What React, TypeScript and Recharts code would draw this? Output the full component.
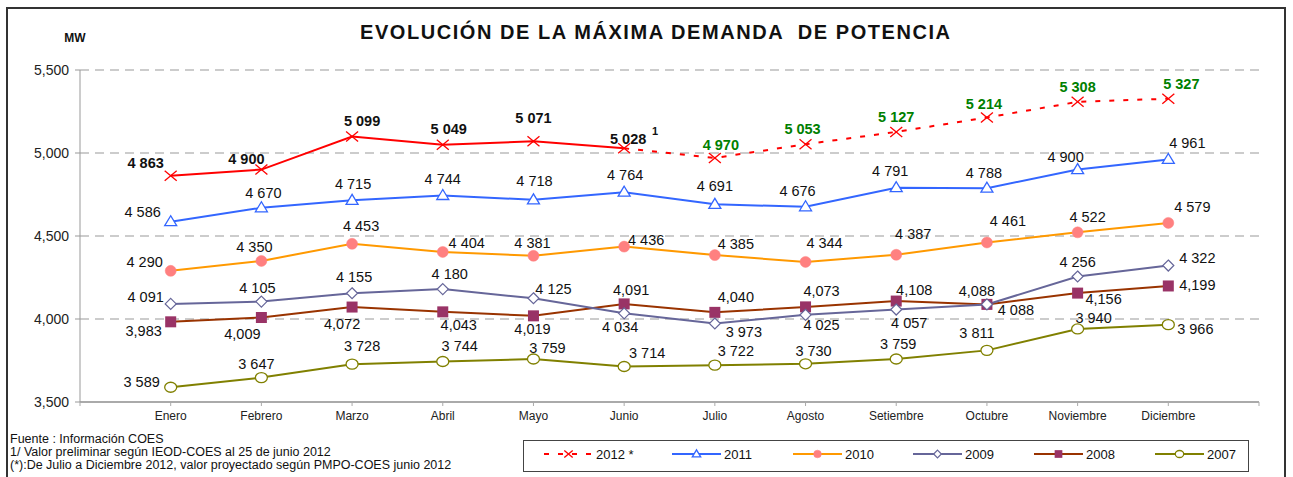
import React from 'react';
import { LineChart, Line, XAxis, YAxis, CartesianGrid } from 'recharts';

const months = ['Enero', 'Febrero', 'Marzo', 'Abril', 'Mayo', 'Junio', 'Julio', 'Agosto', 'Setiembre', 'Octubre', 'Noviembre', 'Diciembre'];
const y2012Real = [4863, 4900, 5099, 5049, 5071, 5028];
const y2012Proj = [4970, 5053, 5127, 5214, 5308, 5327];
const y2011 = [4586, 4670, 4715, 4744, 4718, 4764, 4691, 4676, 4791, 4788, 4900, 4961];
const y2010 = [4290, 4350, 4453, 4404, 4381, 4436, 4385, 4344, 4387, 4461, 4522, 4579];
const y2009 = [4091, 4105, 4155, 4180, 4125, 4034, 3973, 4025, 4057, 4088, 4256, 4322];
const y2008 = [3983, 4009, 4072, 4043, 4019, 4091, 4040, 4073, 4108, 4088, 4156, 4199];
const y2007 = [3589, 3647, 3728, 3744, 3759, 3714, 3722, 3730, 3759, 3811, 3940, 3966];
const yTicks = [3500, 4000, 4500, 5000, 5500];
const xTicks = [0, 1, 2, 3, 4, 5, 6, 7, 8, 9, 10, 11, 12, 13];

// label placement (dx, dy) relative to each point
const o2012 = [[-25, -13], [-15, -11], [10, -16], [6, -16], [0, -23], [4, -10], [6, -13], [-3, -15], [0, -15], [-3, -14], [0, -15], [13, -15]];
const o2011 = [[-28, -10], [2, -15], [1, -17], [0, -17], [1, -19], [1, -17], [0, -19], [-8, -16], [-6, -17], [-3, -15], [-12, -13], [19, -17]];
const o2010 = [[-26, -9], [-7, -14], [9, -18], [24, -9], [-1, -13], [22, -7], [21, -11], [19, -19], [17, -21], [21, -22], [10, -16], [24, -16]];
const o2009 = [[-25, -7], [-4, -14], [2, -16], [7, -15], [20, -9], [-4, 13], [29, 8], [16, 10], [13, 13], [29, 5], [0, -15], [29, -8]];
const o2008 = [[-27, 9], [-19, 16], [-10, 17], [16, 13], [-1, 13], [7, -14], [21, -16], [16, -16], [18, -11], [-10, -14], [26, 6], [29, -1]];
const o2007 = [[-29, -5], [-5, -14], [10, -18], [17, -16], [14, -11], [23, -14], [21, -14], [8, -13], [2, -15], [-10, -18], [16, -11], [27, 4]];

const data = months.map((m, i) => ({
  x: i + 1,
  s2012a: i < 6 ? y2012Real[i] : null,
  s2012b: i === 5 ? y2012Real[5] : i > 5 ? y2012Proj[i - 6] : null,
  s2011: y2011[i],
  s2010: y2010[i],
  s2009: y2009[i],
  s2008: y2008[i],
  s2007: y2007[i],
}));

const FONT = '"Liberation Sans", Arial, Helvetica, sans-serif';

const fmtSpace = (v: number) => `${Math.floor(v / 1000)} ${String(v % 1000).padStart(3, '0')}`;
const fmtComma = (v: number) => `${Math.floor(v / 1000)},${String(v % 1000).padStart(3, '0')}`;

function makeLabel(offsets: number[][], fmt: (v: number) => string, opts: { bold?: boolean; color?: string; skip?: number[]; sup?: number } = {}) {
  return (props: any) => {
    const { x, y, index, value } = props;
    if (x == null || y == null || value == null || (opts.skip && opts.skip.includes(index))) return null;
    const [dx, dy] = offsets[index] || [0, -12];
    const fill = opts.color || '#111';
    return (
      <g key={`lbl-${index}`}>
        <text x={x + dx} y={y + dy} dy="0.36em" textAnchor="middle" fontFamily={FONT} fontSize={14.5} fontWeight={opts.bold ? 700 : 400} fill={fill}>
          {fmt(Number(value))}
        </text>
        {opts.sup === index ? (
          <text x={x + 31} y={y - 17} dy="0.36em" textAnchor="middle" fontFamily={FONT} fontSize={11} fontWeight={700} fill="#111">1</text>
        ) : null}
      </g>
    );
  };
}

type Shape = 'cross' | 'tri' | 'fcircle' | 'diamond' | 'square' | 'ocircle';

function drawMarker(shape: Shape, cx: number, cy: number, color: string, fill: string, s = 1, key?: string) {
  switch (shape) {
    case 'cross':
      return (
        <g key={key}>
          <line x1={cx - 6 * s} y1={cy - 5 * s} x2={cx + 6 * s} y2={cy + 5 * s} stroke={color} strokeWidth={1.3} />
          <line x1={cx - 6 * s} y1={cy + 5 * s} x2={cx + 6 * s} y2={cy - 5 * s} stroke={color} strokeWidth={1.3} />
        </g>
      );
    case 'tri':
      return <polygon key={key} points={`${cx},${cy - 6 * s} ${cx - 6 * s},${cy + 4 * s} ${cx + 6 * s},${cy + 4 * s}`} fill="#fff" stroke={color} strokeWidth={1.3} />;
    case 'fcircle':
      return <circle key={key} cx={cx} cy={cy} r={5.5 * s} fill={fill} stroke={fill} strokeWidth={0.5} />;
    case 'diamond':
      return <polygon key={key} points={`${cx},${cy - 5.5 * s} ${cx + 5.5 * s},${cy} ${cx},${cy + 5.5 * s} ${cx - 5.5 * s},${cy}`} fill="#fff" stroke={color} strokeWidth={1.2} />;
    case 'square':
      return <rect key={key} x={cx - 5.5 * s} y={cy - 5.5 * s} width={11 * s} height={11 * s} fill={fill} />;
    case 'ocircle':
      return <ellipse key={key} cx={cx} cy={cy} rx={6 * s} ry={5 * s} fill="#fff" stroke={color} strokeWidth={1.3} />;
  }
  return null;
}

function makeDot(shape: Shape, color: string, fill: string, skip: number[] = []) {
  return (props: any) => {
    const { cx, cy, index, value } = props;
    if (cx == null || cy == null || value == null || skip.includes(index)) return <g key={`dot-${index}`} />;
    return <g key={`dot-${index}`}>{drawMarker(shape, cx, cy, color, fill)}</g>;
  };
}

const legendItems: { name: string; shape: Shape; color: string; fill: string; dash?: string; left: number }[] = [
  { name: '2012 *', shape: 'cross', color: '#FF0000', fill: '#FF0000', dash: '5 9', left: 544 },
  { name: '2011', shape: 'tri', color: '#3366FF', fill: '#fff', left: 672 },
  { name: '2010', shape: 'fcircle', color: '#FF9900', fill: '#FF8080', left: 793 },
  { name: '2009', shape: 'diamond', color: '#666699', fill: '#fff', left: 913 },
  { name: '2008', shape: 'square', color: '#993300', fill: '#993366', left: 1034 },
  { name: '2007', shape: 'ocircle', color: '#808000', fill: '#fff', left: 1155 },
];

export default function App() {
  return (
    <div style={{ position: 'absolute', left: 0, top: 0, width: 1293, height: 477, overflow: 'hidden', background: '#fff', fontFamily: FONT }}>
      <div style={{ position: 'absolute', left: 6, top: 7, width: 1280, height: 490, border: '2px solid #333', boxSizing: 'border-box' }} />
      <svg width={1293} height={60} style={{ position: 'absolute', left: 0, top: 0 }}>
        <text x={360} y={39} fontFamily={FONT} fontSize={20} fontWeight={700} fill="#111" textLength={590} lengthAdjust="spacing" style={{ whiteSpace: 'pre' }}>
          EVOLUCIÓN DE LA MÁXIMA DEMANDA  DE POTENCIA
        </text>
        <text x={75} y={42} textAnchor="middle" fontFamily={FONT} fontSize={12} fontWeight={700} fill="#111">MW</text>
      </svg>
      <div style={{ position: 'absolute', left: 0, top: 0 }}>
        <LineChart width={1293} height={477} data={data} margin={{ top: 70, right: 34, bottom: 45, left: 20 }}>
          <CartesianGrid vertical={false} stroke="#999" strokeDasharray="9 6" />
          <XAxis
            type="number"
            dataKey="x"
            domain={[0, 13]}
            ticks={xTicks}
            interval={0}
            tickFormatter={(v: number) => (v >= 1 && v <= 12 ? months[v - 1] : '')}
            axisLine={{ stroke: '#aaa', strokeWidth: 2 }}
            tickLine={{ stroke: '#aaa' }}
            tickSize={4}
            tickMargin={5}
            height={30}
            tick={{ fontSize: 12, fill: '#222', fontFamily: FONT }}
          />
          <YAxis
            domain={[3500, 5500]}
            ticks={yTicks}
            interval={0}
            tickFormatter={(v: number) => v.toLocaleString('en-US')}
            axisLine={{ stroke: '#999' }}
            tickLine={{ stroke: '#999' }}
            tickSize={5}
            tickMargin={6}
            width={60}
            tick={{ fontSize: 14, fill: '#222', fontFamily: FONT }}
          />
          <Line dataKey="s2007" stroke="#808000" strokeWidth={2} isAnimationActive={false} dot={makeDot('ocircle', '#808000', '#fff')} label={makeLabel(o2007, fmtSpace)} />
          <Line dataKey="s2008" stroke="#993300" strokeWidth={2} isAnimationActive={false} dot={makeDot('square', '#993300', '#993366')} label={makeLabel(o2008, fmtComma)} />
          <Line dataKey="s2009" stroke="#666699" strokeWidth={2} isAnimationActive={false} dot={makeDot('diamond', '#666699', '#fff')} label={makeLabel(o2009, fmtSpace)} />
          <Line dataKey="s2010" stroke="#FF9900" strokeWidth={2} isAnimationActive={false} dot={makeDot('fcircle', '#FF9900', '#FF8080')} label={makeLabel(o2010, fmtSpace)} />
          <Line dataKey="s2011" stroke="#3366FF" strokeWidth={2} isAnimationActive={false} dot={makeDot('tri', '#3366FF', '#fff')} label={makeLabel(o2011, fmtSpace)} />
          <Line dataKey="s2012b" stroke="#FF0000" strokeWidth={2} strokeDasharray="5 9" isAnimationActive={false} dot={makeDot('cross', '#FF0000', '#FF0000', [5])} label={makeLabel(o2012, fmtSpace, { bold: true, color: '#008000', skip: [5] })} />
          <Line dataKey="s2012a" stroke="#FF0000" strokeWidth={2} isAnimationActive={false} dot={makeDot('cross', '#FF0000', '#FF0000')} label={makeLabel(o2012, fmtSpace, { bold: true, color: '#111', sup: 5 })} />
        </LineChart>
      </div>
      <div style={{ position: 'absolute', left: 10, top: 433, fontSize: 12.5, lineHeight: '13px', color: '#111', whiteSpace: 'nowrap' }}>
        <div>Fuente : Información COES</div>
        <div>1/ Valor preliminar según IEOD-COES al 25 de junio 2012</div>
        <div>(*):De Julio a Diciembre 2012, valor proyectado según PMPO-COES junio 2012</div>
      </div>
      <div style={{ position: 'absolute', left: 523, top: 440, width: 726, height: 32, border: '1.5px solid #444', boxSizing: 'border-box' }} />
      <svg width={1293} height={40} style={{ position: 'absolute', left: 0, top: 437 }}>
        {legendItems.map((it) => (
          <g key={it.name}>
            <line x1={it.left} y1={17} x2={it.left + 49} y2={17} stroke={it.color} strokeWidth={2} strokeDasharray={it.dash} />
            {drawMarker(it.shape, it.left + 24.5, 17, it.color, it.fill, 0.7)}
            <text x={it.left + 52} y={17} dy="0.36em" fontFamily={FONT} fontSize={13} fill="#111">{it.name}</text>
          </g>
        ))}
      </svg>
    </div>
  );
}
